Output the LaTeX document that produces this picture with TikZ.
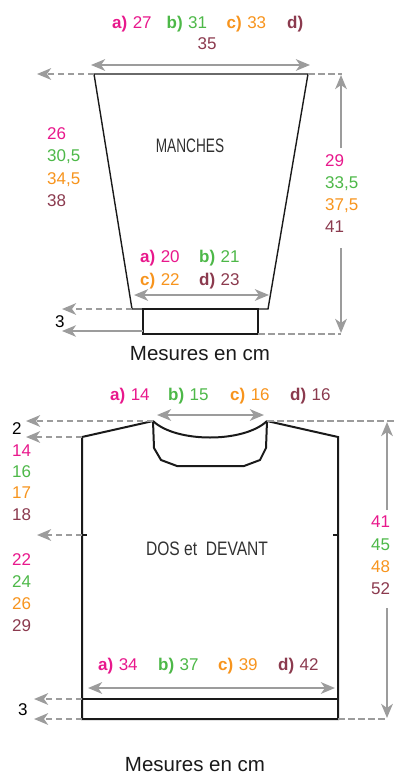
\documentclass[tikz,border=0pt]{standalone}
\usepackage{fontspec}
\setmainfont{Liberation Sans}
\newfontfamily\condfontA[FakeStretch=0.70]{Liberation Sans}
\newfontfamily\condfontB[FakeStretch=0.80]{Liberation Sans}
\usetikzlibrary{arrows.meta}
\definecolor{cA}{HTML}{E8188C}
\definecolor{cB}{HTML}{4DB848}
\definecolor{cC}{HTML}{F7941D}
\definecolor{cD}{HTML}{8B3A4E}
\definecolor{gr}{HTML}{9C9C9C}
\definecolor{ink}{HTML}{1A1A1A}
\newcommand{\szlab}[3]{\textcolor{#1}{\textbf{#2}\hspace{0.32em}#3}}
\begin{document}
\begin{tikzpicture}[x=1pt,y=-1pt,
  lab/.style={anchor=base west, inner sep=0pt, font=\fontsize{17}{20}\selectfont},
  title/.style={anchor=base, inner sep=0pt, text=ink!90},
  mes/.style={anchor=base, inner sep=0pt, text=ink, font=\fontsize{20.5}{22}\selectfont},
  tipg/.tip={Stealth[length=14pt,width=11.5pt,inset=4pt]},
  gline/.style={draw=gr, line width=2.5pt},
  gdash/.style={gline, dash pattern=on 6.5pt off 3.5pt},
  outl/.style={draw=ink, line width=1.4pt, line join=miter},
  outb/.style={draw=ink, line width=2pt, line join=miter}]
\useasboundingbox (0,0) rectangle (395,776);

% ---------------- SLEEVE ----------------
\coordinate (Stl) at (94,74);
\coordinate (Str) at (308,74);
\coordinate (Sbl) at (132,309);
\coordinate (Sbr) at (268,309);
\coordinate (Ctl) at (143,309);
\coordinate (Ctr) at (258,309);
\coordinate (Cbl) at (143,334);
\coordinate (Cbr) at (258,334);
\draw[outl] (Stl) -- (Str) -- (Sbr) -- (Sbl) -- cycle;
\draw[outb] (Ctl) rectangle (Cbr);

\coordinate (SAl) at (91,65);
\coordinate (SAr) at (310,65);
\draw[gline, tipg-tipg] (SAl) -- (SAr);
\coordinate (SLd) at (37,74);
\draw[gdash, -tipg] (Stl) -- (SLd);
\coordinate (SRd) at (342,74);
\draw[gdash] (Str) -- (SRd);
\coordinate (SVt) at (341,75);
\coordinate (SVu) at (341,148);
\coordinate (SVd) at (341,248);
\coordinate (SVb) at (341,333);
\draw[gline, -tipg] (SVu) -- (SVt);
\draw[gline, -tipg] (SVd) -- (SVb);
\coordinate (CAl) at (134,295);
\coordinate (CAr) at (269,295);
\draw[gline, tipg-tipg] (CAl) -- (CAr);
\coordinate (CLd) at (62,309);
\draw[gdash, -tipg] (Sbl) -- (CLd);
\coordinate (CLs0) at (143,331);
\coordinate (CLs) at (62,331);
\draw[draw=gr, line width=1.3pt, -tipg] (CLs0) -- (CLs);
\coordinate (CRd) at (341,334);
\draw[gdash] (Cbr) -- (CRd);

\node[lab] (sa) at (112,28.3) {\szlab{cA}{a)}{27}};
\node[lab] (sb) at (166.5,28.3) {\szlab{cB}{b)}{31}};
\node[lab] (sc) at (226.5,28.3) {\szlab{cC}{c)}{33}};
\node[lab] (sd) at (287,28.3) {\textcolor{cD}{\textbf{d)}}};
\node[lab, anchor=base] (sd2) at (207,50) {\textcolor{cD}{35}};

\node[lab] (sl1) at (47,139) {\textcolor{cA}{26}};
\node[lab] (sl2) at (47,161.5) {\textcolor{cB}{30,5}};
\node[lab] (sl3) at (47,184) {\textcolor{cC}{34,5}};
\node[lab] (sl4) at (47,206) {\textcolor{cD}{38}};

\node[lab] (sr1) at (325,166) {\textcolor{cA}{29}};
\node[lab] (sr2) at (325,188.5) {\textcolor{cB}{33,5}};
\node[lab] (sr3) at (325,210.5) {\textcolor{cC}{37,5}};
\node[lab] (sr4) at (325,232.5) {\textcolor{cD}{41}};

\node[title, font=\condfontA\fontsize{19.5}{22}\selectfont] (manches) at (190,152) {MANCHES};

\node[lab] (ca) at (140,262) {\szlab{cA}{a)}{20}};
\node[lab] (cb) at (199,262) {\szlab{cB}{b)}{21}};
\node[lab] (cc) at (140,285) {\szlab{cC}{c)}{22}};
\node[lab] (cd) at (199,285) {\szlab{cD}{d)}{23}};
\node[lab] (c3) at (55,327.5) {3};
\node[mes] (mes1) at (200,360) {Mesures en cm};

% ---------------- BODY ----------------
\coordinate (Bnl) at (153,421);
\coordinate (Bnr) at (267,421);
\coordinate (Bsl) at (82,437);
\coordinate (Bsr) at (338,437);
\coordinate (Bbl) at (82,699);
\coordinate (Bbr) at (338,699);
\coordinate (Rbl) at (82,719);
\coordinate (Rbr) at (338,719);
\draw[outb] (Bnl) -- (Bsl) -- (Rbl) -- (Rbr) -- (Bsr) -- (Bnr);
\draw[outb] (Bbl) -- (Bbr);
\draw[outb] (Bnl) .. controls (176,443) and (244,443) .. (Bnr);
\draw[outb] (Bnl) -- (154,448) -- (161,460) -- (177,466) -- (244,466) -- (260,460) -- (266,448) -- (Bnr);
\coordinate (Tl0) at (82,535);
\coordinate (Tl1) at (87,535);
\coordinate (Tr0) at (333,535);
\coordinate (Tr1) at (338,535);
\draw[outb] (Tl0) -- (Tl1);
\draw[outb] (Tr0) -- (Tr1);

\coordinate (NAl) at (157,415);
\coordinate (NAr) at (264,415);
\draw[gline, tipg-tipg] (NAl) -- (NAr);
\coordinate (BLd1) at (26,421);
\coordinate (BLd2) at (26,437);
\coordinate (BLd3) at (37,535);
\draw[gdash, -tipg] (Bnl) -- (BLd1);
\draw[gdash, -tipg] (Bsl) -- (BLd2);
\draw[gdash, -tipg] (Tl0) -- (BLd3);
\coordinate (BRd) at (395,421);
\draw[gdash] (Bnr) -- (BRd);
\coordinate (BVt) at (387,422);
\coordinate (BVu) at (387,510);
\coordinate (BVd) at (387,608);
\coordinate (BVb) at (387,718);
\draw[gline, -tipg] (BVu) -- (BVt);
\draw[gline, -tipg] (BVd) -- (BVb);
\coordinate (BAl) at (88,688);
\coordinate (BAr) at (335,688);
\draw[gline, tipg-tipg] (BAl) -- (BAr);
\coordinate (BLd4) at (34,699);
\coordinate (BLd5) at (34,719);
\draw[gdash, -tipg] (Bbl) -- (BLd4);
\draw[gdash, -tipg] (Rbl) -- (BLd5);
\coordinate (BRd2) at (388,719);
\draw[gdash] (Rbr) -- (BRd2);

\node[lab] (ba) at (110,400) {\szlab{cA}{a)}{14}};
\node[lab] (bb) at (168,400) {\szlab{cB}{b)}{15}};
\node[lab] (bc) at (230,400) {\szlab{cC}{c)}{16}};
\node[lab] (bd) at (290,400) {\szlab{cD}{d)}{16}};

\node[lab] (b2) at (12,434) {2};
\node[lab] (bl1) at (12,456) {\textcolor{cA}{14}};
\node[lab] (bl2) at (12,477) {\textcolor{cB}{16}};
\node[lab] (bl3) at (12,498.5) {\textcolor{cC}{17}};
\node[lab] (bl4) at (12,520) {\textcolor{cD}{18}};
\node[lab] (bl5) at (12,565) {\textcolor{cA}{22}};
\node[lab] (bl6) at (12,587) {\textcolor{cB}{24}};
\node[lab] (bl7) at (12,609.5) {\textcolor{cC}{26}};
\node[lab] (bl8) at (12,631.5) {\textcolor{cD}{29}};

\node[lab] (br1) at (371,527) {\textcolor{cA}{41}};
\node[lab] (br2) at (371,550) {\textcolor{cB}{45}};
\node[lab] (br3) at (371,572.5) {\textcolor{cC}{48}};
\node[lab] (br4) at (371,594.5) {\textcolor{cD}{52}};

\node[title, font=\condfontB\fontsize{19.5}{22}\selectfont] (dos) at (207,555) {DOS et\ \ DEVANT};

\node[lab] (fa) at (98,670) {\szlab{cA}{a)}{34}};
\node[lab] (fb) at (158,670) {\szlab{cB}{b)}{37}};
\node[lab] (fc) at (218,670) {\szlab{cC}{c)}{39}};
\node[lab] (fd) at (278,670) {\szlab{cD}{d)}{42}};
\node[lab] (f3) at (18,715) {3};
\node[mes] (mes2) at (195,771.5) {Mesures en cm};
\end{tikzpicture}
\end{document}
